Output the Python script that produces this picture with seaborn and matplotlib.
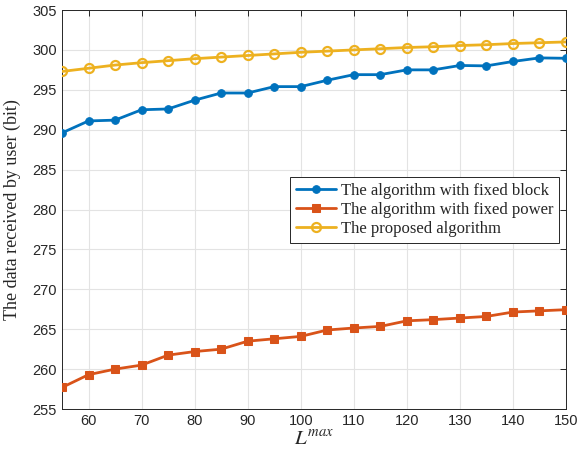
import matplotlib
matplotlib.use("Agg")
import matplotlib.pyplot as plt
import seaborn as sns
import pandas as pd

x_values = [55, 60, 65, 70, 75, 80, 85, 90, 95, 100, 105, 110, 115, 120, 125, 130, 135, 140, 145, 150]
fixed_block = [289.6, 291.1, 291.2, 292.5, 292.6, 293.7, 294.6, 294.6, 295.4, 295.4,
               296.2, 296.9, 296.9, 297.5, 297.5, 298.05, 298.0, 298.55, 299.0, 298.95]
fixed_power = [257.7, 259.3, 260.0, 260.5, 261.75, 262.2, 262.5, 263.5, 263.8, 264.1,
               264.9, 265.15, 265.35, 266.05, 266.2, 266.4, 266.6, 267.15, 267.3, 267.45]
proposed = [297.3, 297.7, 298.1, 298.4, 298.65, 298.9, 299.1, 299.3, 299.5, 299.7,
            299.85, 300.0, 300.15, 300.3, 300.4, 300.55, 300.65, 300.8, 300.9, 301.0]
series_names = ["The algorithm with fixed block",
                "The algorithm with fixed power",
                "The proposed algorithm"]
x_ticks = [60, 70, 80, 90, 100, 110, 120, 130, 140, 150]
y_ticks = [255, 260, 265, 270, 275, 280, 285, 290, 295, 300, 305]

sns.set_style("white")
plt.rcParams['font.family'] = ['Liberation Sans', 'DejaVu Sans']
plt.rcParams['mathtext.fontset'] = 'stix'

fig = plt.figure(figsize=(5.88, 4.51), dpi=100)
ax = fig.add_axes([0.1054, 0.0931, 0.8572, 0.8847])

df_block = pd.DataFrame({"x": x_values, "y": fixed_block})
df_power = pd.DataFrame({"x": x_values, "y": fixed_power})
df_prop = pd.DataFrame({"x": x_values, "y": proposed})

sns.lineplot(data=df_block, x="x", y="y", ax=ax, color="#0072BD", lw=2,
             marker="o", markersize=5.5, markeredgecolor="#0072BD",
             markerfacecolor="#0072BD", label=series_names[0], zorder=3)
sns.lineplot(data=df_power, x="x", y="y", ax=ax, color="#D95319", lw=2,
             marker="s", markersize=5.5, markeredgecolor="#D95319",
             markerfacecolor="#D95319", label=series_names[1], zorder=3)
sns.lineplot(data=df_prop, x="x", y="y", ax=ax, color="#EDB120", lw=2,
             marker="o", markersize=6.5, markeredgecolor="#EDB120",
             markerfacecolor="none", markeredgewidth=1.6, label=series_names[2], zorder=3)

ax.set_xlim(55, 150)
ax.set_ylim(255, 305)
ax.set_xticks(x_ticks)
ax.set_yticks(y_ticks)
ax.grid(True, color="#e3e3e3", lw=0.8)
ax.tick_params(direction="in", length=4, top=True, right=True, labelsize=10.5,
               colors="#262626", width=0.7)
for s in ax.spines.values():
    s.set_color("#262626")
    s.set_linewidth(0.7)
    s.set_visible(True)

ax.set_xlabel("$L^{max}$", fontsize=15, labelpad=1)
ax.set_ylabel("The data received by user (bit)", fontsize=13,
              family=["Liberation Serif", "DejaVu Serif"], labelpad=8)

leg = ax.legend(loc="upper left", bbox_to_anchor=(0.453, 0.582), frameon=True,
                fancybox=False, edgecolor="#262626", framealpha=1,
                prop={"family": ["Liberation Serif", "DejaVu Serif"], "size": 12},
                handlelength=2.4, handletextpad=0.3, borderpad=0.35, labelspacing=0.2,
                borderaxespad=0)
leg.get_frame().set_linewidth(0.7)

fig.savefig("out.png", dpi=100)
